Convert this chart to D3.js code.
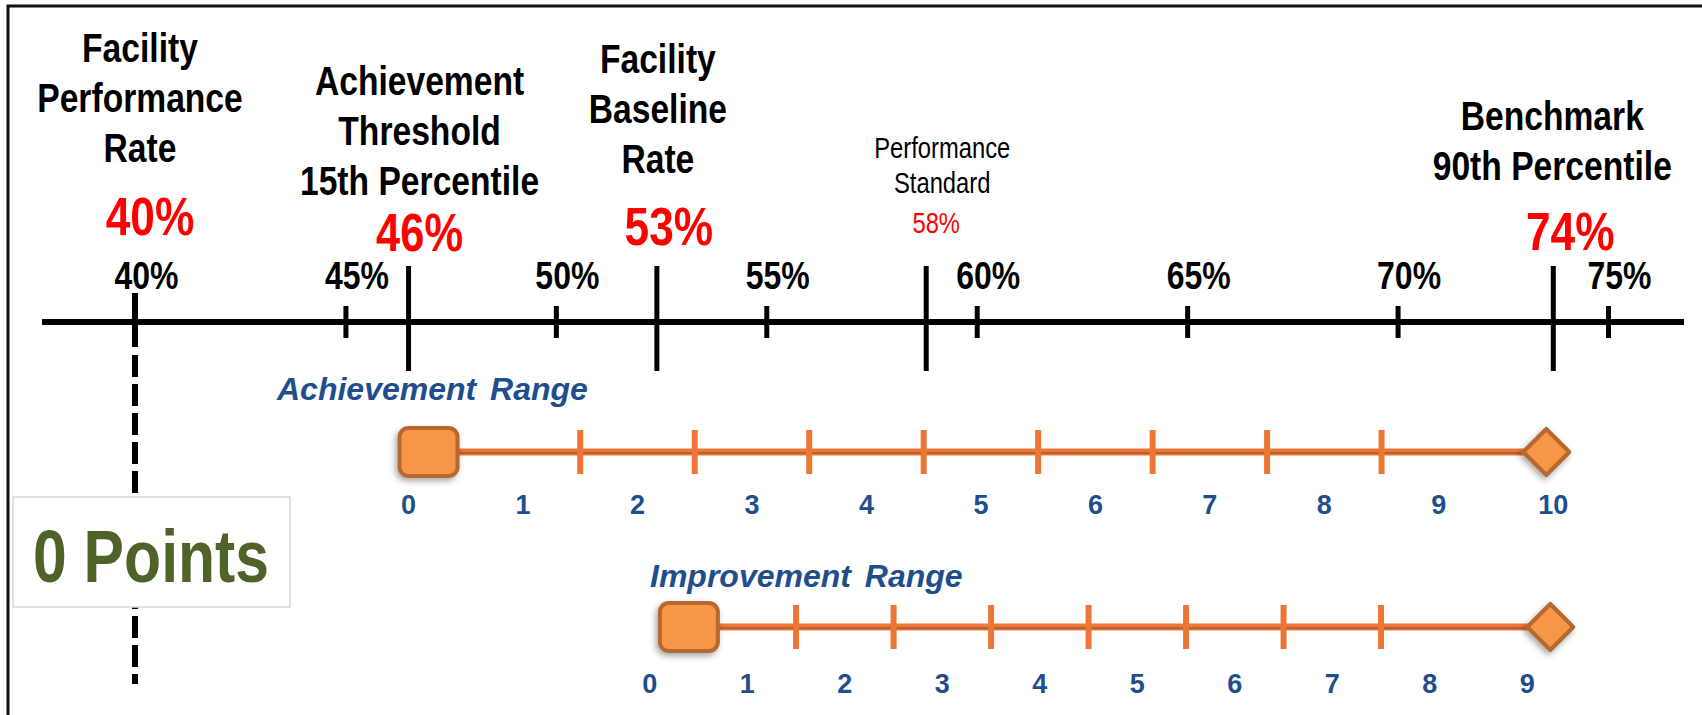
<html>
<head>
  <title>Achievement and Improvement Ranges</title>
  <meta charset="utf-8" />
<script src="https://d3js.org/d3.v7.min.js"></script>
</head>
<style>
  body { margin: 0; background: #fff; }
  svg { display: block; }
  text { font-family: "Liberation Sans", Arial, sans-serif; }
</style>
<body>
<svg class="main" width="1702" height="715"></svg>
<script>

// percent axis
const pctTicks = [40, 45, 50, 55, 60, 65, 70, 75]

// markers on the axis: label value and where the picture places them on the axis
const markerNames = [
  ["Facility", "Performance", "Rate"],
  ["Achievement", "Threshold", "15th Percentile"],
  ["Facility", "Baseline", "Rate"],
  ["Performance", "Standard"],
  ["Benchmark", "90th Percentile"]
]
const markerPct = [40, 46, 53, 58, 74]
const markerAt = [40, 46.5, 52.4, 58.8, 73.7]

// point ranges
const achievementPoints = [0, 1, 2, 3, 4, 5, 6, 7, 8, 9, 10]
const improvementPoints = [0, 1, 2, 3, 4, 5, 6, 7, 8, 9]
const scoreLabel = "0 Points"

const blue = "#1f4e8c", red = "#ff0000", green = "#4f6228"
const orange = "#ec7635", orangeFill = "#f79646", orangeEdge = "#b6672d"
const squeeze = 0.82   // no narrow font installed, so squash the sans

const svg = d3.select("svg")

const defs = svg.append("defs")
defs.append("filter").attr("id", "shadow")
  .attr("x", "-40%").attr("y", "-40%").attr("width", "180%").attr("height", "180%")
  .append("feDropShadow")
  .attr("dx", -2).attr("dy", 3).attr("stdDeviation", 3)
  .attr("flood-color", "#000").attr("flood-opacity", 0.35)

function narrow(parent, cx, cy, str, size, weight, fill) {
  return parent.append("g")
    .attr("transform", `translate(${cx},${cy}) scale(${squeeze},1)`)
    .append("text")
    .attr("text-anchor", "middle")
    .style("font-size", size + "px").style("font-weight", weight).style("fill", fill)
    .text(str)
}

// frame (right and bottom edges are outside the picture)
svg.append("rect")
  .attr("x", 8).attr("y", 6).attr("width", 1720).attr("height", 740)
  .style("fill", "none").style("stroke", "#111").style("stroke-width", 3)

const x = d3.scaleLinear().domain([40, 75]).range([135, 1608])
const axisY = 322

// main line
svg.append("line")
  .attr("x1", 42).attr("x2", 1684).attr("y1", axisY).attr("y2", axisY)
  .style("stroke", "#000").style("stroke-width", 6)

const axis = svg.append("g")
  .attr("transform", `translate(0,${axisY})`)
  .call(d3.axisTop(x).tickValues(pctTicks).tickSize(16).tickFormat(d => d + "%"))

axis.select(".domain").remove()
axis.selectAll(".tick line")
  .attr("y1", 16).attr("y2", -16)
  .style("stroke", "#000").style("stroke-width", 5)
axis.selectAll(".tick text")
  .attr("x", 0).attr("y", 0).attr("dy", 0)
  .attr("transform", `translate(11,-33) scale(${squeeze},1)`)
  .attr("text-anchor", "middle")
  .attr("font-family", null).attr("font-size", null)
  .style("font-size", "39px").style("font-weight", "bold").style("fill", "#000")

// facility performance rate: short tick then dashed drop line
svg.append("line")
  .attr("x1", x(markerAt[0])).attr("x2", x(markerAt[0]))
  .attr("y1", 293).attr("y2", 347)
  .style("stroke", "#000").style("stroke-width", 6)
svg.append("line")
  .attr("x1", x(markerAt[0])).attr("x2", x(markerAt[0]))
  .attr("y1", 355).attr("y2", 684)
  .style("stroke", "#000").style("stroke-width", 6)
  .style("stroke-dasharray", "22,7")

// other marker lines
svg.selectAll("line.marker")
  .data(markerAt.slice(1))
  .enter()
  .append("line")
  .attr("class", "marker")
  .attr("x1", d => x(d)).attr("x2", d => x(d))
  .attr("y1", 266).attr("y2", 371)
  .style("stroke", "#000").style("stroke-width", 5)

// marker headings
const headLayout = [
  { dx: 5, top: 62, lh: 50, size: 41, weight: "bold", rdx: 15, ry: 235, rsize: 54 },
  { dx: 11, top: 95, lh: 50, size: 41, weight: "bold", rdx: 11, ry: 251, rsize: 53 },
  { dx: 1, top: 73, lh: 50, size: 41, weight: "bold", rdx: 12, ry: 245, rsize: 54 },
  { dx: 16, top: 158, lh: 35, size: 29, weight: "normal", rdx: 10, ry: 233, rsize: 29 },
  { dx: -1, top: 130, lh: 50, size: 41, weight: "bold", rdx: 17, ry: 250, rsize: 54 }
]

markerNames.forEach((lines, i) => {
  const L = headLayout[i]
  const cx = x(markerAt[i])
  lines.forEach((s, j) => {
    narrow(svg, cx + L.dx, L.top + j * L.lh, s, L.size, L.weight, "#000")
  })
  narrow(svg, cx + L.rdx, L.ry, markerPct[i] + "%", L.rsize, L.weight, red)
})

// "0 Points" box
svg.append("rect")
  .attr("x", 13).attr("y", 497).attr("width", 277).attr("height", 110)
  .style("fill", "#fff").style("stroke", "#d9d9d9").style("stroke-width", 1.5)
narrow(svg, 151, 582, scoreLabel, 74, "bold", green)

// range bars
const bars = [
  { title: "Achievement Range", points: achievementPoints, y: 452, titleX: 277, titleY: 400,
    from: x(markerAt[1]), to: x(markerAt[4]), sq: 20, dia: -7, labelDy: 62 },
  { title: "Improvement Range", points: improvementPoints, y: 627, titleX: 650, titleY: 587,
    from: x(markerAt[2]) - 7, to: x(markerAt[4]) - 26, sq: 39, dia: 23, labelDy: 66 }
]

bars.forEach(b => {
  const n = b.points.length - 1
  const s = d3.scaleLinear().domain([0, n]).range([b.from, b.to])
  const g = svg.append("g")
  const sqX = s(0) + b.sq, diaX = s(n) + b.dia

  g.append("text")
    .attr("x", b.titleX).attr("y", b.titleY)
    .style("font-size", "32px").style("font-weight", "bold").style("font-style", "italic")
    .style("word-spacing", "5px").style("fill", blue)
    .text(b.title)

  g.append("line")
    .attr("x1", sqX).attr("x2", diaX).attr("y1", b.y).attr("y2", b.y)
    .style("stroke", orange).style("stroke-width", 7)
  g.append("line")
    .attr("x1", sqX).attr("x2", diaX).attr("y1", b.y + 1).attr("y2", b.y + 1)
    .style("stroke", "#b4602f").style("stroke-width", 2)

  const inner = d3.range(1, n - 1).map(k => k + 0.5)
  g.selectAll("line.tick")
    .data(inner)
    .enter()
    .append("line")
    .attr("class", "tick")
    .attr("x1", d => s(d)).attr("x2", d => s(d))
    .attr("y1", b.y - 22).attr("y2", b.y + 22)
    .style("stroke", orange).style("stroke-width", 6)

  g.append("rect")
    .attr("x", sqX - 29).attr("y", b.y - 24).attr("width", 58).attr("height", 48)
    .attr("rx", 9)
    .style("fill", orangeFill).style("stroke", orangeEdge).style("stroke-width", 4)
    .attr("filter", "url(#shadow)")

  g.append("path")
    .attr("d", d3.symbol(d3.symbolDiamond2, 1350)())
    .attr("transform", `translate(${diaX},${b.y})`)
    .style("fill", orangeFill).style("stroke", orangeEdge).style("stroke-width", 4)
    .style("stroke-linejoin", "round")
    .attr("filter", "url(#shadow)")

  g.selectAll("text.pt")
    .data(b.points)
    .enter()
    .append("text")
    .attr("class", "pt")
    .attr("x", d => s(d)).attr("y", b.y + b.labelDy)
    .attr("text-anchor", "middle")
    .style("font-size", "27px").style("font-weight", "bold").style("fill", blue)
    .text(d => d)
})

</script>
</body>
</html>
